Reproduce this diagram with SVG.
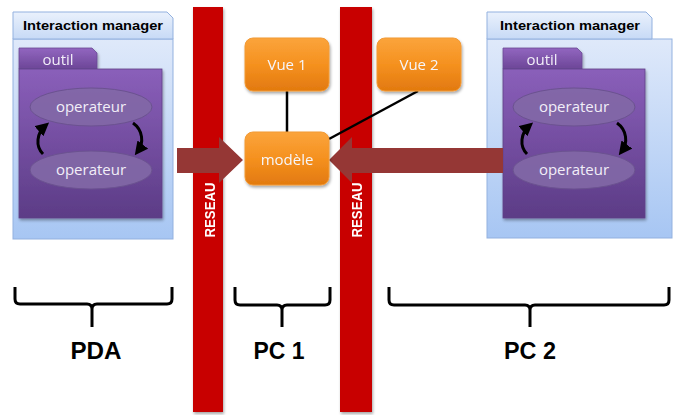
<svg xmlns="http://www.w3.org/2000/svg" width="678" height="415" viewBox="0 0 678 415">
<defs>
<linearGradient id="gHead" x1="0" y1="0" x2="0" y2="1"><stop offset="0" stop-color="#eaf1fc"/><stop offset="1" stop-color="#c7daf6"/></linearGradient>
<linearGradient id="gBody" x1="0" y1="0" x2="0" y2="1"><stop offset="0" stop-color="#dfe9fa"/><stop offset="1" stop-color="#a7c6f3"/></linearGradient>
<linearGradient id="gTab" x1="0" y1="0" x2="0" y2="1"><stop offset="0" stop-color="#9266c0"/><stop offset="1" stop-color="#6c4697"/></linearGradient>
<linearGradient id="gOutil" x1="0" y1="0" x2="0" y2="1"><stop offset="0" stop-color="#8a5fba"/><stop offset="1" stop-color="#5c3c86"/></linearGradient>
<linearGradient id="gOrange" x1="0" y1="0" x2="0" y2="1"><stop offset="0" stop-color="#fba43c"/><stop offset="0.5" stop-color="#f5911f"/><stop offset="1" stop-color="#e2790f"/></linearGradient>
<filter id="sh" x="-10%" y="-10%" width="130%" height="130%"><feGaussianBlur in="SourceAlpha" stdDeviation="1.5"/><feOffset dx="1" dy="2" result="b"/><feComponentTransfer><feFuncA type="linear" slope="0.35"/></feComponentTransfer><feMerge><feMergeNode/><feMergeNode in="SourceGraphic"/></feMerge></filter>
<marker id="ah" viewBox="0 0 10 10" refX="6" refY="5" markerWidth="4.5" markerHeight="4.5" orient="auto"><path d="M0,0 L10,5 L0,10 z" fill="#000"/></marker>
<style>
.head{fill:url(#gHead);stroke:#93b1df;stroke-width:1}
.body{fill:url(#gBody);stroke:#93b1df;stroke-width:1}
.tab{fill:url(#gTab);stroke:#6a4a94;stroke-width:0.8}
.outil{fill:url(#gOutil);stroke:#5f4287;stroke-width:0.8}
.op{fill:#8268a6;fill-opacity:0.9;stroke:#6b5290;stroke-width:1}
.opt{font-family:"Open Sans","DejaVu Sans",sans-serif;font-size:15px;fill:#f2eef8;text-anchor:middle}
.imt{font-family:"Liberation Sans",Arial,sans-serif;font-weight:bold;font-size:13px;fill:#000}
.bar{fill:#c80000}
.res{font-family:"Liberation Sans",Arial,sans-serif;font-weight:bold;font-size:15px;fill:#fff;text-anchor:middle}
.node{fill:url(#gOrange);stroke:#f29a35;stroke-width:1}
.nt{font-family:"Open Sans","DejaVu Sans",sans-serif;font-size:15px;fill:#f6f6fb;text-anchor:middle}
.ln{stroke:#000;stroke-width:2.5;fill:none}
.cyc{stroke:#000;stroke-width:3;fill:none;marker-end:url(#ah)}
.big{fill:#953735}
.brace{stroke:#000;stroke-width:3;fill:none;stroke-linejoin:round}
.lbl{font-family:"Liberation Sans",Arial,sans-serif;font-weight:bold;font-size:24px;fill:#000;text-anchor:middle}
</style>
</defs>
<rect width="678" height="415" fill="#fff"/>

<g id="reseau1" filter="url(#sh)">
<rect class="bar" x="193" y="7" width="30" height="405"/>
<text class="res" transform="translate(215,210) rotate(-90)" textLength="55" lengthAdjust="spacingAndGlyphs">RESEAU</text>
</g>
<g id="reseau2" filter="url(#sh)">
<rect class="bar" x="340" y="7" width="32" height="405"/>
<text class="res" transform="translate(362,210) rotate(-90)" textLength="55" lengthAdjust="spacingAndGlyphs">RESEAU</text>
</g>

<g id="im-pda">
<rect class="body" x="13" y="39" width="160" height="200"/>
<path class="head" d="M13,12 L167,12 L173,18 L173,39 L13,39 Z"/>
<text class="imt" x="93" y="30" text-anchor="middle" textLength="140" lengthAdjust="spacingAndGlyphs">Interaction manager</text>
<g id="outil-pda" filter="url(#sh)">
<path class="tab" d="M19,48 L92,48 L97,53 L97,69 L19,69 Z"/>
<rect class="outil" x="19" y="69" width="143" height="149"/>
<text class="opt" x="58" y="65">outil</text>
</g>
<g id="op-pda-1"><ellipse class="op" cx="91" cy="107" rx="61" ry="19"/><text class="opt" x="91" y="112">operateur</text></g>
<g id="op-pda-2"><ellipse class="op" cx="91" cy="170" rx="61" ry="19"/><text class="opt" x="91" y="175">operateur</text></g>
</g>

<g id="im-pc2">
<rect class="body" x="487" y="39" width="185" height="199"/>
<path class="head" d="M487,12 L646,12 L652,18 L652,39 L487,39 Z"/>
<text class="imt" x="570" y="30" text-anchor="middle" textLength="140" lengthAdjust="spacingAndGlyphs">Interaction manager</text>
<g id="outil-pc2" filter="url(#sh)">
<path class="tab" d="M503,48 L577,48 L582,53 L582,69 L503,69 Z"/>
<rect class="outil" x="503" y="69" width="142" height="149"/>
<text class="opt" x="542" y="65">outil</text>
</g>
<g id="op-pc2-1"><ellipse class="op" cx="574" cy="107" rx="61" ry="19"/><text class="opt" x="574" y="112">operateur</text></g>
<g id="op-pc2-2"><ellipse class="op" cx="574" cy="170" rx="61" ry="19"/><text class="opt" x="574" y="175">operateur</text></g>
</g>

<g id="connectors">
<path class="cyc" d="M43,154 C35,146 37,133 45,126"/>
<path class="cyc" d="M133,123 C143,130 144,143 138,151"/>
<path class="cyc" d="M527,154 C519,146 521,133 529,126"/>
<path class="cyc" d="M617,123 C627,130 628,143 622,151"/>
<line class="ln" x1="287" y1="91" x2="287" y2="132"/>
<line class="ln" x1="418" y1="91" x2="329" y2="139"/>
<path class="big" d="M177,148 L219,148 L219,137 L243,160 L219,183 L219,173 L177,173 Z"/>
<path class="big" d="M503,148 L352,148 L352,137 L329,160 L352,183 L352,173 L503,173 Z"/>
</g>

<g id="vue1" filter="url(#sh)"><rect class="node" x="245" y="38" width="84" height="53" rx="8"/><text class="nt" x="287" y="70">Vue 1</text></g>
<g id="vue2" filter="url(#sh)"><rect class="node" x="377" y="38" width="84" height="53" rx="8"/><text class="nt" x="419" y="70">Vue 2</text></g>
<g id="modele" filter="url(#sh)"><rect class="node" x="245" y="132" width="84" height="53" rx="8"/><text class="nt" x="287" y="165">modèle</text></g>

<g id="brace-pda">
<path class="brace" d="M15,287 L15,299 Q15,304 20,304 L87,304 Q92,304 92,309 L92,327 M92,309 Q92,304 97,304 L167,304 Q172,304 172,299 L172,287"/>
<text class="lbl" x="96" y="359" textLength="51" lengthAdjust="spacingAndGlyphs">PDA</text>
</g>
<g id="brace-pc1">
<path class="brace" d="M235,287 L235,300 Q235,305 240,305 L277,305 Q282,305 282,310 L282,327 M282,310 Q282,305 287,305 L325,305 Q330,305 330,300 L330,287"/>
<text class="lbl" x="279" y="359" textLength="51" lengthAdjust="spacingAndGlyphs">PC 1</text>
</g>
<g id="brace-pc2">
<path class="brace" d="M389,287 L389,300 Q389,305 394,305 L525,305 Q530,305 530,310 L530,327 M530,310 Q530,305 535,305 L664,305 Q669,305 669,300 L669,287"/>
<text class="lbl" x="530" y="359" textLength="52" lengthAdjust="spacingAndGlyphs">PC 2</text>
</g>
</svg>
